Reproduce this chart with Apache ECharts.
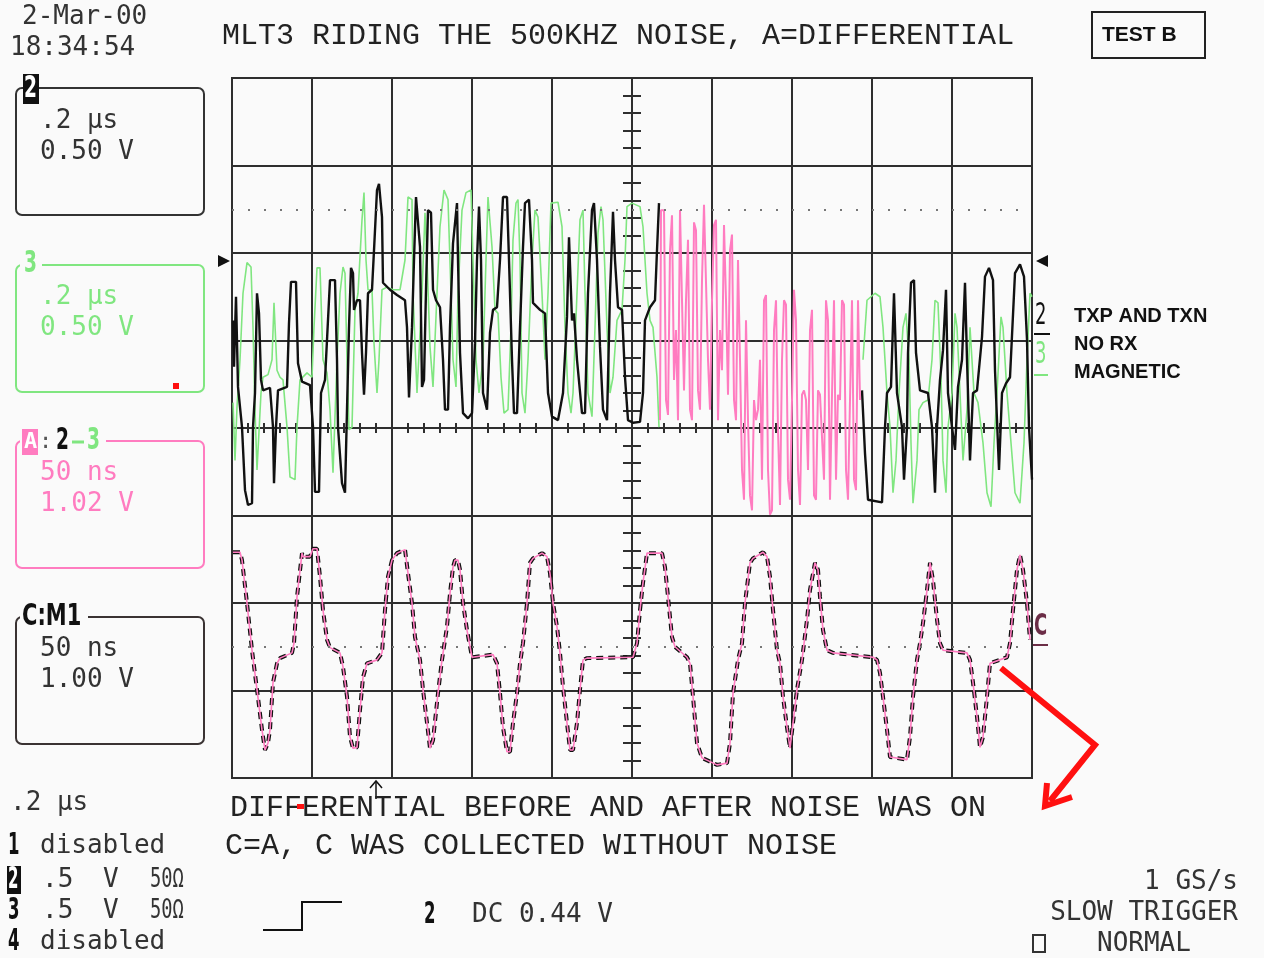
<!DOCTYPE html>
<html>
<head>
<meta charset="utf-8">
<title>MLT3 riding the 500KHZ noise</title>
<script src="https://cdn.jsdelivr.net/npm/echarts@6/dist/echarts.min.js"></script>
<style>
  html, body { margin: 0; padding: 0; background: #fafafa; }
  #chart { width: 1264px; height: 958px; }
</style>
</head>
<body>
<div id="chart"></div>
<script>
// time in ns from the left edge of the screen (0.2 us/div), level in screen divisions from centre

// channel 2 (black), before and after the stretch hidden under trace A
const ch2Before = [[2.5,1.23],[5,0.70],[10,1.50],[15,0.47],[25,0.01],[32.5,-0.71],[40,-0.88],[50,-0.86],[52.5,0.01],[57.5,0.40],[62.5,1.54],[67.5,1.31],[72.5,0.55],[77.5,0.43],[95,0.46],[102.5,0.01],[105,-0.63],[110,0.01],[115,0.43],[137.5,0.47],[142.5,1.20],[147.5,1.67],[160,1.67],[165,0.74],[175,0.53],[195,0.49],[202.5,0.01],[207.5,-0.73],[217.5,-0.73],[222.5,0.40],[232.5,0.55],[245,1.69],[257.5,1.69],[262.5,0.78],[265,0.01],[275,-0.63],[282.5,-0.74],[287.5,0.21],[292.5,1.15],[297.5,1.83],[302.5,1.77],[305,1.35],[312.5,1.46],[320,1.46],[325,0.86],[330,0.38],[335,0.86],[340,1.54],[350,1.58],[355,2.03],[362.5,2.72],[367.5,2.79],[375,2.41],[377.5,1.66],[395,1.58],[412.5,1.52],[432.5,1.46],[437.5,1.15],[442.5,0.35],[450,1.15],[455,1.92],[460,2.64],[465,2.64],[470,2.07],[475,0.47],[480,0.55],[485,1.58],[490,2.49],[497.5,2.46],[502.5,1.58],[510,1.46],[520,1.38],[527.5,0.78],[532.5,0.21],[540,0.21],[545,1.15],[552.5,2.11],[562.5,2.57],[565,1.92],[570,0.86],[577.5,0.17],[590,0.11],[600,0.17],[607.5,0.97],[612.5,1.92],[617.5,2.53],[622.5,1.92],[627.5,0.40],[637.5,0.21],[645,1.09],[652.5,1.35],[662.5,1.38],[670,1.92],[677.5,2.64],[687.5,2.64],[692.5,1.92],[700,0.78],[705,0.17],[712.5,0.17],[720,1.15],[727.5,2.07],[732.5,2.57],[742.5,2.61],[750,1.92],[752.5,1.43],[770,1.35],[782.5,1.31],[790,0.40],[800,0.13],[815,0.09],[827.5,0.40],[837.5,1.27],[842.5,2.18],[850,1.23],[855,1.31],[862.5,0.78],[875,0.17],[882.5,0.17],[890,1.54],[900,2.49],[905,2.57],[912.5,1.92],[920,0.93],[927.5,0.21],[937.5,0.09],[945,1.54],[952.5,2.47],[957.5,1.92],[965,1.38],[975,1.35],[982.5,0.58],[990,0.09],[1002.5,0.06],[1020,0.07],[1027.5,0.40],[1032.5,1.23],[1045,1.38],[1057.5,1.46],[1062.5,2.03],[1067.5,2.57]];
const ch2After = [[1575,0.43],[1582.5,-0.29],[1590,-0.82],[1625,-0.85],[1632.5,0.01],[1637.5,0.40],[1647.5,0.47],[1655,1.54],[1660,1.54],[1662.5,0.40],[1675,0.01],[1680,-0.59],[1687.5,0.01],[1690,0.86],[1697.5,1.66],[1705,1.69],[1710,0.86],[1720,0.43],[1740,0.40],[1750,0.01],[1757.5,-0.74],[1762.5,0.01],[1770,0.55],[1777.5,0.89],[1785,1.58],[1790,0.40],[1800,0.01],[1807.5,-0.25],[1815,0.47],[1825,0.78],[1832.5,1.66],[1837.5,0.78],[1845,-0.37],[1852.5,0.40],[1862.5,0.43],[1875,1.04],[1882.5,1.73],[1892.5,1.83],[1902.5,1.69],[1907.5,0.66],[1917.5,-0.48],[1925,0.40],[1935,0.51],[1945,0.58],[1957.5,1.77],[1970,1.87],[1980,1.73],[1987.5,1.01],[1992.5,0.01],[2000,-0.59]];

// channel 3 (green)
const ch3Before = [[2.5,0.29],[7.5,-0.37],[12.5,0.24],[20,0.78],[27.5,1.54],[37.5,1.89],[47.5,1.84],[52.5,1.15],[57.5,0.21],[62.5,-0.48],[67.5,-0.48],[72.5,0.40],[77.5,0.58],[90,0.61],[100,0.78],[105,1.43],[110,1.43],[112.5,0.66],[120,0.58],[127.5,0.55],[137.5,0.01],[145,-0.56],[157.5,-0.59],[162.5,0.01],[170,0.55],[187.5,0.63],[200,0.58],[205,1.15],[212.5,1.83],[220,1.83],[227.5,0.78],[237.5,0.63],[245,0.21],[252.5,-0.51],[257.5,-0.51],[262.5,0.78],[270,1.54],[277.5,1.84],[282.5,1.77],[287.5,0.78],[292.5,-0.02],[300,0.01],[307.5,1.35],[315,1.54],[325,2.38],[330,2.69],[335,1.92],[340,1.58],[350,1.58],[355,0.97],[362.5,0.40],[367.5,0.78],[375,1.58],[387.5,1.61],[402.5,1.58],[420,1.58],[432.5,1.92],[440,2.64],[450,2.61],[452.5,1.54],[462.5,0.40],[467.5,0.40],[475,1.54],[482.5,2.46],[487.5,1.92],[495,0.93],[502.5,0.47],[512.5,1.54],[520,2.30],[530,2.72],[540,2.61],[547.5,1.54],[552.5,0.78],[560,0.47],[565,1.54],[575,2.49],[585,2.69],[597.5,2.72],[602.5,1.92],[610,0.78],[617.5,0.40],[627.5,0.78],[635,1.92],[640,2.64],[650,2.07],[657.5,1.35],[665,1.31],[672.5,0.58],[680,0.17],[690,0.21],[697.5,1.15],[702.5,2.15],[710,2.57],[715,2.61],[720,1.92],[725,0.40],[732.5,0.17],[740,0.78],[750,1.92],[757.5,2.49],[765,2.41],[775,1.54],[782.5,0.78],[790,1.54],[797.5,2.57],[815,2.58],[825,2.30],[832.5,1.15],[840,0.40],[847.5,0.17],[852.5,0.40],[862.5,1.54],[870,2.38],[877.5,2.49],[882.5,1.54],[890,0.40],[900,0.13],[907.5,1.15],[915,2.23],[922.5,2.53],[927.5,2.38],[937.5,1.15],[945,0.40],[952.5,0.58],[962.5,1.23],[975,1.35],[982.5,1.92],[987.5,2.53],[1000,2.57],[1020,2.53],[1027.5,2.30],[1037.5,1.54],[1045,1.23],[1052.5,1.15],[1062.5,0.58],[1067.5,0.01]];
const ch3After = [[1577.5,0.78],[1587.5,1.46],[1607.5,1.54],[1620,1.50],[1627.5,1.15],[1637.5,0.40],[1645,0.01],[1652.5,-0.74],[1660,-0.37],[1667.5,0.40],[1677.5,1.15],[1685,1.31],[1692.5,0.78],[1697.5,-0.17],[1702.5,-0.86],[1712.5,-0.37],[1717.5,0.21],[1727.5,0.29],[1740,0.32],[1750,0.78],[1757.5,1.46],[1765,1.43],[1772.5,0.58],[1777.5,-0.37],[1785,-0.74],[1790,0.01],[1800,0.40],[1807.5,1.31],[1812.5,1.15],[1820,0.40],[1827.5,-0.37],[1837.5,0.21],[1845,1.15],[1855,0.40],[1865,0.29],[1877.5,-0.17],[1887.5,-0.74],[1897.5,-0.90],[1905,-0.17],[1912.5,0.40],[1922.5,1.27],[1927.5,1.15],[1937.5,0.40],[1947.5,-0.17],[1957.5,-0.74],[1970,-0.86],[1980,-0.17],[1987.5,0.78],[1995,1.54],[2000,1.50]];

// trace A (ch2 - ch3, pink) where it is drawn over the upper traces
const traceATop = [[1070,0.09],[1072.5,2.49],[1080,2.49],[1085,0.32],[1090,0.15],[1095,2.03],[1100,2.43],[1105,0.55],[1110,1.12],[1115,0.09],[1120,2.49],[1125,2.47],[1130,0.43],[1135,1.46],[1140,2.15],[1145,0.21],[1150,0.09],[1155,2.35],[1160,2.26],[1165,0.43],[1170,0.21],[1175,1.69],[1180,2.55],[1185,2.53],[1190,0.78],[1195,0.21],[1200,1.46],[1205,2.32],[1210,2.38],[1215,0.09],[1220,1.12],[1225,0.66],[1230,2.32],[1235,1.46],[1240,0.38],[1245,2.03],[1250,2.21],[1255,0.32],[1260,0.09],[1265,1.92],[1270,0.78],[1275,-0.48],[1280,-0.82],[1285,1.23],[1290,0.09],[1295,-0.77],[1300,-0.94],[1305,0.32],[1310,0.09],[1315,0.21],[1320,0.78],[1325,-0.59],[1330,1.46],[1335,1.52],[1340,-0.48],[1345,-0.99],[1350,-0.94],[1355,1.12],[1360,1.46],[1365,-0.02],[1370,-0.88],[1375,0.78],[1380,1.46],[1385,1.41],[1390,-0.59],[1395,-0.82],[1400,0.32],[1405,1.58],[1410,1.23],[1415,-0.48],[1420,-0.88],[1425,0.38],[1430,0.43],[1435,0.32],[1440,-0.48],[1445,1.12],[1450,1.35],[1455,-0.77],[1460,-0.82],[1465,0.43],[1470,0.38],[1475,0.38],[1480,-0.59],[1485,1.46],[1490,1.23],[1495,-0.82],[1500,0.38],[1505,1.46],[1510,-0.59],[1515,0.38],[1520,0.32],[1525,1.46],[1530,1.41],[1535,-0.48],[1540,-0.82],[1545,0.32],[1550,1.46],[1555,-0.59],[1560,-0.71],[1565,1.46],[1570,0.32]];

// trace C (memory M1, black) and trace A (pink) in the lower half: C = A
const traceC = [[2.5,-1.42],[20,-1.42],[25,-1.51],[37.5,-2.00],[50,-2.54],[62.5,-2.99],[75,-3.45],[82.5,-3.68],[90,-3.60],[95,-3.45],[102.5,-2.91],[112.5,-2.69],[120,-2.63],[150,-2.57],[155,-2.46],[162.5,-1.93],[175,-1.43],[177.5,-1.47],[195,-1.47],[202.5,-1.38],[212.5,-1.38],[220,-1.70],[227.5,-2.08],[237.5,-2.42],[245,-2.51],[270,-2.57],[277.5,-2.73],[287.5,-3.07],[295,-3.53],[302.5,-3.66],[312.5,-3.65],[320,-3.22],[327.5,-2.85],[337.5,-2.69],[362.5,-2.65],[375,-2.57],[382.5,-2.08],[390,-1.70],[400,-1.51],[412.5,-1.43],[432.5,-1.39],[440,-1.66],[450,-2.00],[457.5,-2.39],[470,-2.65],[477.5,-2.99],[487.5,-3.37],[495,-3.66],[502.5,-3.57],[515,-3.03],[525,-2.65],[537.5,-2.27],[545,-1.89],[552.5,-1.59],[557.5,-1.51],[565,-1.51],[570,-1.62],[577.5,-2.00],[587.5,-2.31],[600,-2.62],[652.5,-2.59],[662.5,-2.69],[670,-3.03],[677.5,-3.42],[687.5,-3.70],[695,-3.70],[702.5,-3.37],[712.5,-3.03],[720,-2.69],[727.5,-2.46],[737.5,-2.00],[745,-1.54],[752.5,-1.49],[775,-1.43],[787.5,-1.47],[795,-1.66],[802.5,-2.00],[812.5,-2.27],[820,-2.57],[827.5,-2.96],[837.5,-3.37],[845,-3.68],[852.5,-3.68],[862.5,-3.37],[870,-2.99],[877.5,-2.65],[887.5,-2.63],[1002.5,-2.62],[1012.5,-2.46],[1020,-2.08],[1027.5,-1.77],[1037.5,-1.43],[1075,-1.43],[1082.5,-1.59],[1090,-1.93],[1100,-2.39],[1107.5,-2.50],[1137.5,-2.62],[1145,-2.69],[1152.5,-3.07],[1162.5,-3.60],[1175,-3.77],[1212.5,-3.85],[1237.5,-3.83],[1245,-3.60],[1252.5,-3.03],[1265,-2.65],[1275,-2.46],[1282.5,-2.00],[1295,-1.54],[1302.5,-1.49],[1327.5,-1.42],[1337.5,-1.47],[1345,-1.70],[1352.5,-2.08],[1362.5,-2.54],[1370,-2.69],[1377.5,-3.07],[1387.5,-3.42],[1395,-3.66],[1402.5,-3.37],[1412.5,-2.99],[1425,-2.65],[1437.5,-2.19],[1445,-1.85],[1457.5,-1.54],[1465,-1.62],[1470,-1.93],[1477.5,-2.31],[1487.5,-2.54],[1502.5,-2.57],[1602.5,-2.62],[1612.5,-2.65],[1620,-2.80],[1627.5,-3.07],[1637.5,-3.45],[1645,-3.76],[1687.5,-3.79],[1695,-3.53],[1702.5,-3.07],[1712.5,-2.65],[1720,-2.46],[1727.5,-2.23],[1737.5,-1.85],[1745,-1.54],[1752.5,-1.74],[1762.5,-2.19],[1770,-2.46],[1777.5,-2.54],[1837.5,-2.57],[1845,-2.65],[1852.5,-2.91],[1862.5,-3.30],[1870,-3.65],[1877.5,-3.53],[1887.5,-3.07],[1895,-2.69],[1937.5,-2.62],[1945,-2.46],[1952.5,-2.08],[1962.5,-1.62],[1970,-1.45],[1977.5,-1.62],[1987.5,-2.00],[1995,-2.42]];

// dotted reference levels (divisions)
const dotLevels = [2.5, -2.5];

const BG = '#fafafa';
const GRID = '#2e2e2e';
const BLACK = '#111';
const GREEN = '#80e680';
const PINK = '#ff7cc0';
const RED = '#ff1010';

const SCOPE = '26px "DejaVu Sans Mono"';
const COURIER = '30px "Liberation Mono"';
const TAG = 'bold 30px "DejaVu Sans"';
const NOTE = 'bold 20px "Liberation Sans"';

function txt(x, y, text, color, font, opts) {
  opts = opts || {};
  return {
    type: 'text', x: x, y: y, z: 100,
    scaleX: opts.scaleX || 1,
    style: {
      text: text, fill: color, font: font,
      textAlign: opts.align || 'left', align: opts.align || 'left',
      textVerticalAlign: 'middle', verticalAlign: 'middle'
    }
  };
}
function rect(x, y, w, h, stroke, fill, r) {
  return {
    type: 'rect', z: 90,
    shape: { x: x, y: y, width: w, height: h, r: r || 0 },
    style: { fill: fill || 'none', stroke: stroke || 'none', lineWidth: 2 }
  };
}
function line(points, color, width) {
  return {
    type: 'polyline', z: 100,
    shape: { points: points },
    style: { stroke: color, lineWidth: width || 2, fill: null }
  };
}
function poly(points, color) {
  return { type: 'polygon', z: 100, shape: { points: points }, style: { fill: color } };
}

const graphics = [
  // header
  txt(22, 17, '2-Mar-00', '#333', SCOPE),
  txt(10, 48, '18:34:54', '#333', SCOPE),
  txt(222, 36, 'MLT3 RIDING THE 500KHZ NOISE, A=DIFFERENTIAL', '#222', COURIER),
  rect(1092, 12, 113, 46, '#222'),
  txt(1102, 35, 'TEST B', '#111', 'bold 21px "Liberation Sans"'),

  // channel 2 box
  rect(16, 88, 188, 127, '#333', null, 6),
  rect(23, 74, 16, 30, null, '#111'),
  txt(24, 89, '2', '#fff', TAG, { scaleX: 0.62 }),
  txt(40, 121, '.2 \u03bcs', '#333', SCOPE),
  txt(40, 152, '0.50 V', '#333', SCOPE),

  // channel 3 box
  rect(16, 265, 188, 127, GREEN, null, 6),
  rect(20, 252, 22, 24, null, BG),
  txt(24, 264, '3', GREEN, TAG, { scaleX: 0.62 }),
  txt(40, 297, '.2 \u03bcs', GREEN, SCOPE),
  txt(40, 328, '0.50 V', GREEN, SCOPE),
  rect(173, 383, 6, 6, null, RED),

  // trace A box
  rect(16, 441, 188, 127, PINK, null, 6),
  rect(20, 428, 86, 26, null, BG),
  rect(22, 429, 16, 26, null, PINK),
  txt(24, 442, 'A', '#fff', 'bold 22px "DejaVu Sans Mono"'),
  txt(39, 442, ':', '#555', '22px "DejaVu Sans Mono"'),
  txt(56, 441, '2', '#111', TAG, { scaleX: 0.62 }),
  line([[72, 442], [84, 442]], GREEN, 3),
  txt(87, 441, '3', GREEN, TAG, { scaleX: 0.62 }),
  txt(40, 473, '50 ns', PINK, SCOPE),
  txt(40, 504, '1.02 V', PINK, SCOPE),

  // trace C box
  rect(16, 617, 188, 127, '#3a3333', null, 6),
  rect(20, 604, 68, 26, null, BG),
  txt(22, 617, 'C:M1', '#111', TAG, { scaleX: 0.7 }),
  txt(40, 649, '50 ns', '#333', SCOPE),
  txt(40, 680, '1.00 V', '#333', SCOPE),

  // trace level markers
  poly([[218, 255], [230, 261], [218, 267]], '#111'),
  poly([[1048, 255], [1036, 261], [1048, 267]], '#111'),
  txt(1035, 316, '2', '#111', '30px "DejaVu Sans"', { scaleX: 0.6 }),
  line([[1034, 334], [1050, 334]], '#111', 2),
  txt(1035, 355, '3', GREEN, '30px "DejaVu Sans"', { scaleX: 0.6 }),
  line([[1034, 375], [1048, 375]], GREEN, 2),
  txt(1034, 627, 'C', '#6b2d46', TAG, { scaleX: 0.6 }),
  line([[1033, 645], [1048, 645]], '#6b2d46', 2),

  // notes at right
  txt(1074, 316, 'TXP AND TXN', '#111', NOTE),
  txt(1074, 344, 'NO RX', '#111', NOTE),
  txt(1074, 372, 'MAGNETIC', '#111', NOTE),

  // trigger position arrow
  line([[376, 799], [376, 781]], '#111', 1.5),
  line([[370, 788], [376, 781], [382, 788]], '#111', 1.5),

  // captions under the grid
  txt(230, 808, 'DIFFERENTIAL BEFORE AND AFTER NOISE WAS ON', '#222', COURIER),
  txt(225, 846, 'C=A, C WAS COLLECTED WITHOUT NOISE', '#222', COURIER),
  Object.assign(rect(297, 804, 7, 5, null, RED), { z: 110 }),

  // channel summary
  txt(10, 803, '.2 \u03bcs', '#333', SCOPE),
  txt(8, 846, '1', '#111', TAG, { scaleX: 0.55 }),
  txt(40, 846, 'disabled', '#333', SCOPE),
  rect(7, 866, 14, 28, null, '#111'),
  txt(8, 880, '2', '#fff', TAG, { scaleX: 0.5 }),
  txt(42, 880, '.5', '#333', SCOPE),
  txt(103, 880, 'V', '#333', SCOPE),
  txt(150, 880, '50\u03a9', '#333', SCOPE, { scaleX: 0.72 }),
  txt(8, 911, '3', '#111', TAG, { scaleX: 0.55 }),
  txt(42, 911, '.5', '#333', SCOPE),
  txt(103, 911, 'V', '#333', SCOPE),
  txt(150, 911, '50\u03a9', '#333', SCOPE, { scaleX: 0.72 }),
  txt(8, 942, '4', '#111', TAG, { scaleX: 0.55 }),
  txt(40, 942, 'disabled', '#333', SCOPE),

  // trigger settings
  line([[263, 930], [302, 930], [302, 902], [342, 902]], '#111', 2),
  txt(424, 915, '2', '#111', TAG, { scaleX: 0.55 }),
  txt(472, 915, 'DC 0.44 V', '#333', SCOPE),
  txt(1238, 882, '1 GS/s', '#333', SCOPE, { align: 'right' }),
  txt(1238, 913, 'SLOW TRIGGER', '#333', SCOPE, { align: 'right' }),
  rect(1033, 935, 12, 17, '#333'),
  txt(1097, 944, 'NORMAL', '#333', SCOPE),

  // red pointer
  line([[1001, 668], [1095, 745], [1050, 801]], RED, 6),
  line([[1047, 783], [1045, 806], [1072, 797]], RED, 6)
];

function trace(data, color, width, extra) {
  return Object.assign({
    type: 'line', data: data, xAxisIndex: 0, yAxisIndex: 0,
    showSymbol: false, symbol: 'none', silent: true,
    lineStyle: { color: color, width: width }
  }, extra || {});
}

const chart = echarts.init(document.getElementById('chart'));
chart.setOption({
  backgroundColor: BG,
  animation: false,
  grid: { left: 232, top: 78, width: 800, height: 700, show: true, borderColor: GRID, borderWidth: 2 },
  xAxis: [
    { type: 'value', min: 0, max: 2000, interval: 200,
      axisLine: { show: false, onZero: false }, axisTick: { show: false }, axisLabel: { show: false },
      splitLine: { show: true, lineStyle: { color: GRID, width: 2 } } },
    { type: 'value', min: 0, max: 2000, interval: 40, position: 'bottom', offset: -350,
      axisLine: { show: false, onZero: false }, axisLabel: { show: false }, splitLine: { show: false },
      axisTick: { show: true, inside: false, length: 5, lineStyle: { color: GRID, width: 2 } } },
    { type: 'value', min: 0, max: 2000, interval: 40, position: 'bottom', offset: -350,
      axisLine: { show: false, onZero: false }, axisLabel: { show: false }, splitLine: { show: false },
      axisTick: { show: true, inside: true, length: 5, lineStyle: { color: GRID, width: 2 } } }
  ],
  yAxis: [
    { type: 'value', min: -4, max: 4, interval: 1,
      axisLine: { show: false, onZero: false }, axisTick: { show: false }, axisLabel: { show: false },
      splitLine: { show: true, lineStyle: { color: GRID, width: 2 } } },
    { type: 'value', min: -4, max: 4, interval: 0.2, position: 'left', offset: -400,
      axisLine: { show: false, onZero: false }, axisLabel: { show: false }, splitLine: { show: false },
      axisTick: { show: true, inside: false, length: 9, lineStyle: { color: GRID, width: 2 } } },
    { type: 'value', min: -4, max: 4, interval: 0.2, position: 'left', offset: -400,
      axisLine: { show: false, onZero: false }, axisLabel: { show: false }, splitLine: { show: false },
      axisTick: { show: true, inside: true, length: 9, lineStyle: { color: GRID, width: 2 } } }
  ],
  series: [
    trace(ch3Before, GREEN, 1.6),
    trace(ch3After, GREEN, 1.6),
    trace(ch2Before, BLACK, 2.4),
    trace(ch2After, BLACK, 2.4),
    trace(traceATop, PINK, 2),
    trace(traceC, BLACK, 4, {
      lineStyle: { color: BLACK, width: 4, type: [7, 5] },
      markLine: {
        silent: true, symbol: ['none', 'none'], label: { show: false },
        lineStyle: { color: '#777', width: 2, type: [2, 14] },
        data: dotLevels.map(function (v) { return { yAxis: v }; })
      }
    }),
    trace(traceC, PINK, 1.6)
  ],
  graphic: graphics
});
</script>
</body>
</html>
